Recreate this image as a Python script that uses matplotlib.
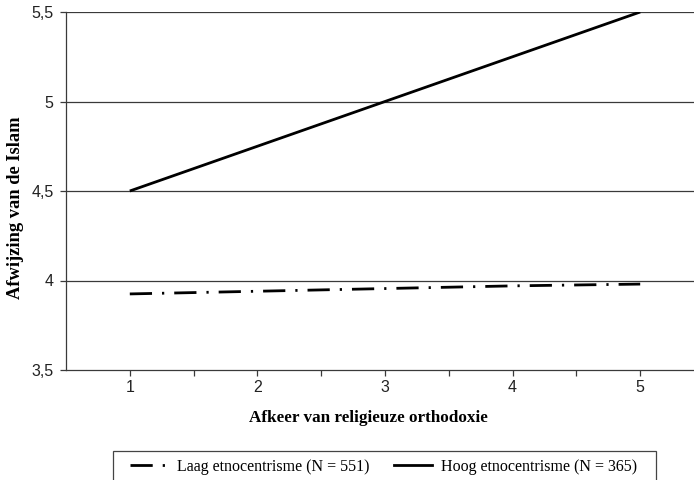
import matplotlib.pyplot as plt
from matplotlib.lines import Line2D
from matplotlib.patches import Rectangle

# Data
x_vals = [1, 2, 3, 4, 5]
laag = [3.925, 3.94, 3.955, 3.97, 3.98]
hoog = [4.5, 4.75, 5.0, 5.25, 5.5]
y_ticks = [3.5, 4, 4.5, 5, 5.5]
y_labels = ['3,5', '4', '4,5', '5', '5,5']
laag_label = 'Laag etnocentrisme (N = 551)'
hoog_label = 'Hoog etnocentrisme (N = 365)'

W, H = 694, 480
fig = plt.figure(figsize=(W / 100, H / 100), dpi=100)
# axes area extends slightly past right edge (cropped like the original)
ax = fig.add_axes([66 / W, 110 / H, 638 / W, 358 / H])

grid_c = '#3a3a3a'
for y in y_ticks[1:]:
    ax.axhline(y, color=grid_c, lw=0.9, zorder=1)

dash = (8, 3.6, 0.8, 3.6)
ax.plot(x_vals, hoog, color='black', lw=2.0, solid_capstyle='butt', zorder=3)
ax.plot(x_vals, laag, color='black', lw=2.0, dashes=dash,
        dash_capstyle='butt', zorder=3)

ax.set_xlim(0.5, 5.5)
ax.set_ylim(3.5, 5.5)
ax.set_xticks(x_vals)
ax.set_xticklabels([str(v) for v in x_vals])
ax.set_xticks([1.5, 2.5, 3.5, 4.5], minor=True)
ax.set_yticks(y_ticks)
ax.set_yticklabels(y_labels)

for s in ['top', 'right']:
    ax.spines[s].set_visible(False)
for s in ['left', 'bottom']:
    ax.spines[s].set_color(grid_c)
    ax.spines[s].set_linewidth(0.9)

ax.tick_params(axis='both', which='both', direction='out', length=4,
               width=0.9, color=grid_c, labelsize=11.5)
ax.tick_params(axis='y', pad=5)
ax.tick_params(axis='x', pad=3)
for lab in ax.get_xticklabels() + ax.get_yticklabels():
    lab.set_fontfamily('Liberation Sans')
    lab.set_color('#222222')

fig.text(368 / W, 1 - 418 / H, 'Afkeer van religieuze orthodoxie',
         ha='center', va='center', family='Liberation Serif',
         fontweight='bold', fontsize=12.3)
fig.text(16 / W, 1 - 208 / H, 'Afwijzing van de Islam', rotation=90,
         ha='center', va='center', family='Liberation Serif',
         fontweight='bold', fontsize=13.3)

# legend box (runs off the bottom edge like the original)
fig.patches.append(Rectangle((113 / W, -10 / H), 543 / W, 39 / H,
                             transform=fig.transFigure, fill=False,
                             edgecolor='#444444', lw=0.9))
handles = [
    Line2D([0], [0], color='black', lw=2.0, dashes=dash),
    Line2D([0], [0], color='black', lw=2.0),
]
leg = fig.legend(handles, [laag_label, hoog_label], loc='center left',
                 bbox_to_anchor=(130 / W, 1 - 467 / H), ncol=2,
                 frameon=False, handlelength=2.4, borderaxespad=0,
                 handletextpad=0.55, columnspacing=1.5, borderpad=0,
                 prop={'family': 'Liberation Serif', 'size': 11.5})

fig.savefig('out.png', dpi=100)
